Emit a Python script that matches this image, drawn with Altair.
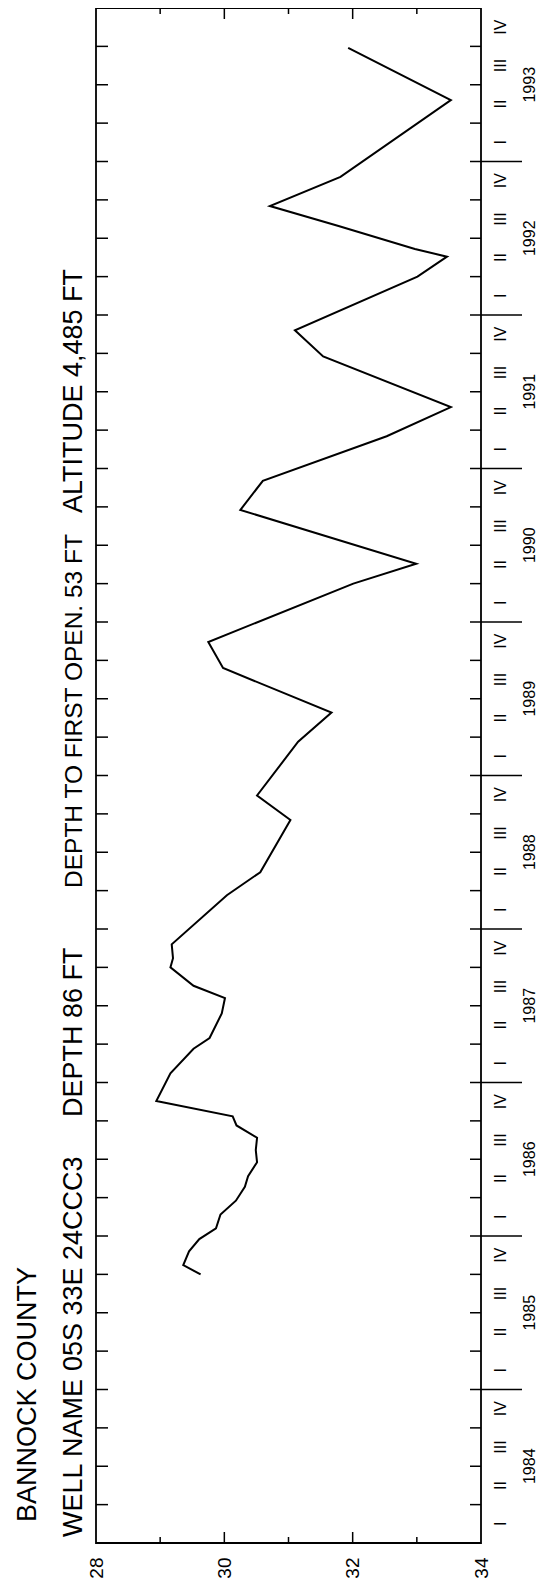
import altair as alt
import pandas as pd

# ---- data (decimal year, depth to water in ft) ----
times = [1985.75, 1985.81, 1985.90, 1985.98, 1986.05, 1986.14, 1986.23, 1986.32,
         1986.39, 1986.48, 1986.56, 1986.64, 1986.72, 1986.78, 1986.88, 1987.06,
         1987.22, 1987.29, 1987.45, 1987.55, 1987.63, 1987.75, 1987.81, 1987.90,
         1988.22, 1988.37, 1988.71, 1988.87, 1989.22, 1989.41, 1989.70, 1989.87,
         1990.25, 1990.38, 1990.73, 1990.92, 1991.21, 1991.40, 1991.73, 1991.90,
         1992.25, 1992.38, 1992.43, 1992.58, 1992.71, 1992.90, 1993.40, 1993.74]
depths = [29.63, 29.36, 29.45, 29.61, 29.87, 29.94, 30.18, 30.32,
          30.37, 30.51, 30.49, 30.51, 30.19, 30.13, 28.94, 29.16,
          29.52, 29.77, 29.96, 30.01, 29.52, 29.16, 29.20, 29.18,
          30.04, 30.56, 31.03, 30.51, 31.15, 31.67, 29.98, 29.75,
          32.01, 32.99, 30.25, 30.60, 32.53, 33.53, 31.54, 31.10,
          33.01, 33.47, 32.97, 31.78, 30.71, 31.81, 33.53, 31.93]

years = list(range(1984, 1994))
quarter_names = ["I", "II", "III", "IV"]
value_labels = [28, 30, 32, 34]
value_minor = [29, 31, 33]
value_major_inner = [30, 32]

county = "BANNOCK COUNTY"
title_parts = ["WELL NAME", "05S 33E 24CCC3", "DEPTH 86 FT",
               "DEPTH TO FIRST OPEN. 53 FT", "ALTITUDE 4,485 FT"]
title_starts = [1529, 1363, 1109, 880, 505]
title_sizes = [27, 27, 27, 24.5, 27]

W, H = 385, 1535
FONT = "Liberation Sans"
X_DOM = [28, 34]
Y_DOM = [1984, 1994]

xs = alt.Scale(domain=X_DOM, nice=False, zero=False)
ys = alt.Scale(domain=Y_DOM, nice=False, zero=False)

df_line = pd.DataFrame({"t": times, "depth": depths})

quarter_bounds = [y + q / 4 for y in years for q in range(4)][1:]
df_left = pd.DataFrame({"t": quarter_bounds})
df_rq = pd.DataFrame({"t": [t for t in quarter_bounds if abs(t - round(t)) > 1e-9]})
df_ry = pd.DataFrame({"t": [float(y) for y in years[1:]]})
df_qlab = pd.DataFrame({
    "t": [y + (q + 0.5) / 4 for y in years for q in range(4)],
    "lab": [quarter_names[q] for y in years for q in range(4)],
})
df_ylab = pd.DataFrame({"t": [y + 0.5 for y in years], "lab": [str(y) for y in years]})

line = alt.Chart(df_line).mark_line(color="black", strokeWidth=2).encode(
    x=alt.X("depth:Q", scale=xs,
            axis=alt.Axis(values=value_labels, format="d", labelAngle=270, ticks=False,
                          domain=False, grid=False, title=None, labelPadding=14,
                          labelFontSize=19, labelFont=FONT, labelColor="black")),
    y=alt.Y("t:Q", scale=ys, axis=None),
    order=alt.Order("t:Q"),
)

tick_style = dict(color="black", strokeWidth=1.5)

left_ticks = alt.Chart(df_left).mark_rule(**tick_style).encode(
    y=alt.Y("t:Q", scale=ys), x=alt.value(0), x2=alt.value(12))
right_q = alt.Chart(df_rq).mark_rule(**tick_style).encode(
    y=alt.Y("t:Q", scale=ys), x=alt.value(W - 11), x2=alt.value(W))
right_y = alt.Chart(df_ry).mark_rule(**tick_style).encode(
    y=alt.Y("t:Q", scale=ys), x=alt.value(W - 11), x2=alt.value(W + 41))

df_bmaj = pd.DataFrame({"v": value_major_inner})
df_bmin = pd.DataFrame({"v": value_minor})
bot_major = alt.Chart(df_bmaj).mark_rule(**tick_style).encode(
    x=alt.X("v:Q", scale=xs), y=alt.value(H), y2=alt.value(H - 11))
bot_minor = alt.Chart(df_bmin).mark_rule(**tick_style).encode(
    x=alt.X("v:Q", scale=xs), y=alt.value(H), y2=alt.value(H - 6))
top_major = alt.Chart(df_bmaj).mark_rule(**tick_style).encode(
    x=alt.X("v:Q", scale=xs), y=alt.value(0), y2=alt.value(11))
top_minor = alt.Chart(df_bmin).mark_rule(**tick_style).encode(
    x=alt.X("v:Q", scale=xs), y=alt.value(0), y2=alt.value(6))

qlab = alt.Chart(df_qlab).mark_text(
    angle=270, align="center", baseline="middle", font=FONT, fontSize=16, color="black"
).encode(y=alt.Y("t:Q", scale=ys), x=alt.value(W + 20), text="lab:N")
ylab = alt.Chart(df_ylab).mark_text(
    angle=270, align="center", baseline="middle", font=FONT, fontSize=16, color="black"
).encode(y=alt.Y("t:Q", scale=ys), x=alt.value(W + 49), text="lab:N")

county_txt = alt.Chart(pd.DataFrame({"lab": [county]})).mark_text(
    angle=270, align="left", baseline="alphabetic", font=FONT, fontSize=27, color="black"
).encode(text="lab:N", x=alt.value(-60), y=alt.value(1514))

title_layers = []
for part, start, size in zip(title_parts, title_starts, title_sizes):
    title_layers.append(
        alt.Chart(pd.DataFrame({"lab": [part]})).mark_text(
            angle=270, align="left", baseline="alphabetic", font=FONT, fontSize=size,
            color="black"
        ).encode(text="lab:N", x=alt.value(-14), y=alt.value(start))
    )

chart = alt.layer(
    line, left_ticks, right_q, right_y, bot_major, bot_minor, top_major, top_minor,
    qlab, ylab, county_txt, *title_layers
).properties(
    width=W, height=H,
    background="white",
    autosize=alt.AutoSizeParams(type="none"),
    padding={"left": 88, "top": 0, "right": 56, "bottom": 36},
).configure_view(
    stroke="black", strokeWidth=1.8
)

chart.save("out.html", embed_options={"renderer": "svg", "actions": False})
